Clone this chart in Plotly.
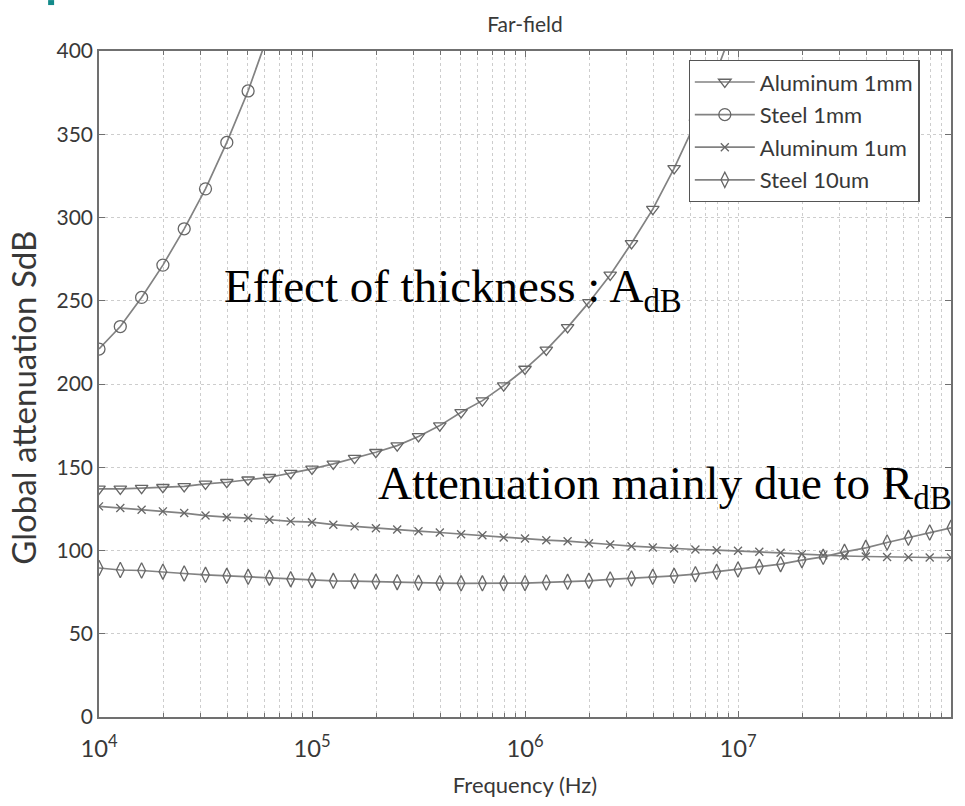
import plotly.graph_objects as go

# Frequency grid: 10 points per decade from 1e4 to 1e8 (log10 exponents)
exponents = [4.0, 4.1, 4.2, 4.3, 4.4, 4.5, 4.6, 4.7, 4.8, 4.9,
             5.0, 5.1, 5.2, 5.3, 5.4, 5.5, 5.6, 5.7, 5.8, 5.9,
             6.0, 6.1, 6.2, 6.3, 6.4, 6.5, 6.6, 6.7, 6.8, 6.9,
             7.0, 7.1, 7.2, 7.3, 7.4, 7.5, 7.6, 7.7, 7.8, 7.9, 8.0]
freq = [10 ** e for e in exponents]

aluminum_1mm = [137, 137, 137.5, 138, 138.5, 140, 141, 142.5, 144, 146.5,
                149, 152, 155.5, 159, 163, 168.5, 175, 183, 190, 199,
                209, 220.5, 234, 249, 265.5, 284.5, 305, 329.5, 357, 388,
                422, 460]
steel_1mm = [221, 234.5, 252, 271.4, 293.2, 317.2, 345.1, 376, 412, 450]
aluminum_1um = [126.5, 125.5, 124.5, 123.5, 122.5, 121, 120, 119.5, 118.5, 117.5,
                117, 115.5, 114.5, 113.4, 112.6, 111.6, 110.8, 109.8, 109.2, 107.8,
                107.2, 106.2, 105.6, 104.4, 103.6, 102.6, 101.8, 101.2, 100.6, 100.2,
                99.8, 99.2, 98.6, 97.8, 97.1, 96.7, 96.4, 96.1, 95.9, 95.8, 95.7]
steel_10um = [89.5, 88.3, 88, 87.3, 86.2, 85.4, 84.8, 84.2, 83.7, 82.8,
              82.2, 81.8, 81.6, 81.2, 81, 80.6, 80.4, 80.3, 80.3, 80.3,
              80.4, 80.8, 81.2, 81.8, 82.6, 83.2, 84.2, 84.8, 85.8, 87.2,
              88.6, 90.2, 91.8, 94.2, 96.2, 99.2, 101.6, 104.8, 107.6, 110.8, 113.6]

series_names = ["Aluminum 1mm", "Steel 1mm", "Aluminum 1um", "Steel 10um"]
series_values = [aluminum_1mm, steel_1mm, aluminum_1um, steel_10um]
series_symbols = ["triangle-down-open", "circle-open", "x-thin-open", "diamond-tall-open"]
series_sizes = [11, 12, 8, 11]

y_ticks = [0, 50, 100, 150, 200, 250, 300, 350, 400]

LINE = "#828282"
MARK = "#666666"
GRID = "#cdcdcd"
AXIS = "#707070"
TXT = "#383838"
FONT = "Lato"

fig = go.Figure()
for i, (name, vals, sym, sz) in enumerate(zip(series_names, series_values, series_symbols, series_sizes)):
    fig.add_trace(go.Scatter(
        x=freq[:len(vals)], y=vals, name=name, mode="lines+markers",
        legendgroup=f"g{i}",
        line=dict(color=LINE, width=1.7),
        marker=dict(symbol=sym, size=sz, color=MARK, line=dict(color=MARK, width=1.3)),
    ))

W, H = 965, 806
L, R, T, B = 99, 12, 51, 88
pw, ph = W - L - R, H - T - B

def px(x):
    return (x - L) / pw

def py(y):
    return (H - B - y) / ph

fig.update_layout(
    width=W, height=H,
    margin=dict(l=L, r=R, t=T, b=B),
    paper_bgcolor="white", plot_bgcolor="white",
    font=dict(family=FONT, color=TXT, size=18),
    title=dict(text="Far-field", x=0.5, xref="paper", xanchor="center",
               y=1 - 25 / H, yref="container", yanchor="middle",
               font=dict(family=FONT, size=21, color=TXT)),
    xaxis=dict(type="log", range=[4, 8], dtick=1, exponentformat="power",
               showexponent="all",
               showgrid=True, gridcolor=GRID, griddash="dot", gridwidth=1,
               showline=True, linecolor=AXIS, linewidth=1.6, mirror="ticks",
               ticks="inside", ticklen=6, tickcolor=AXIS,
               minor=dict(dtick="D1", showgrid=True, gridcolor=GRID, griddash="dot",
                          ticks="inside", ticklen=4, tickcolor=AXIS),
               tickfont=dict(family=FONT, size=19, color=TXT),
               ticklabelstandoff=11,
               title=dict(text="Frequency (Hz)", font=dict(family=FONT, size=22, color=TXT),
                          standoff=16),
               zeroline=False),
    yaxis=dict(range=[0, 400], tickvals=y_ticks,
               showgrid=True, gridcolor=GRID, griddash="dot", gridwidth=1,
               showline=True, linecolor=AXIS, linewidth=1.6, mirror="ticks",
               ticks="inside", ticklen=6, tickcolor=AXIS,
               tickfont=dict(family=FONT, size=21, color=TXT),
               zeroline=False),
    legend=dict(x=px(690), y=py(60), xanchor="left", yanchor="top",
                bgcolor="white", bordercolor="#555555", borderwidth=1.2,
                font=dict(family=FONT, size=22, color=TXT),
                itemwidth=60, tracegroupgap=1,
                entrywidth=185, entrywidthmode="pixels"),
    showlegend=True,
)

# y-axis title placed as a rotated annotation to match the reference position
fig.add_annotation(text="Global attenuation SdB", xref="paper", yref="paper",
                   x=px(23), y=py(398), xanchor="center", yanchor="middle",
                   textangle=-90, showarrow=False,
                   font=dict(family=FONT, size=33, color=TXT))

fig.add_annotation(text="Effect of thickness : A<sub>dB</sub>", xref="paper", yref="paper",
                   x=px(222), y=py(290), xanchor="left", yanchor="middle", showarrow=False,
                   font=dict(family="Liberation Serif", size=47, color="black"))
fig.add_annotation(text="Attenuation mainly due to R<sub>dB</sub>", xref="paper", yref="paper",
                   x=px(377), y=py(487), xanchor="left", yanchor="middle", showarrow=False,
                   font=dict(family="Liberation Serif", size=47, color="black"))

fig.add_shape(type="rect", xref="paper", yref="paper",
              x0=px(48), x1=px(54), y0=py(5), y1=py(0),
              fillcolor="#138a8a", line=dict(width=0), layer="above")

fig.write_html("out.html")
